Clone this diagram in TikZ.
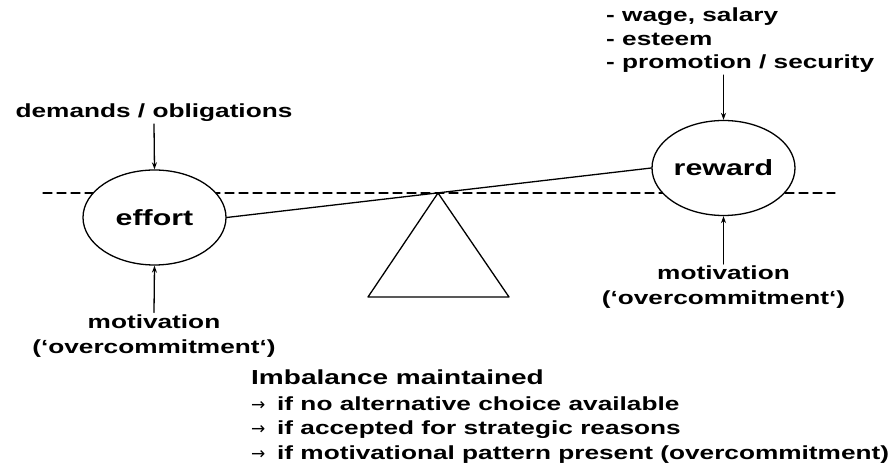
\documentclass[tikz,border=0pt]{standalone}
\usepackage{fontspec}
\usetikzlibrary{shapes.geometric,arrows.meta,positioning}
\newfontfamily\labelfont{Liberation Sans}[FakeStretch=1.38]
\newfontfamily\symfont{DejaVu Sans}
\newcommand{\thenarrow}{\makebox[26pt][l]{\symfont\mdseries\fontsize{17}{17}\selectfont →}}
\tikzset{
  lbl/.style={font=\labelfont\bfseries\fontsize{19}{25}\selectfont, align=center, inner sep=2pt},
  pan/.style={draw, ellipse, fill=white, minimum width=143, minimum height=95, inner sep=0pt,
    line width=1.3pt, font=\labelfont\bfseries\fontsize{22}{26}\selectfont},
  push/.style={-{Stealth[length=7pt,width=5pt]}, line width=1.3pt},
  level/.style={dashed, dash pattern=on 9pt off 5pt, line width=1.2pt},
}
\begin{document}
\begin{tikzpicture}[line cap=round,line join=round,x=1pt,y=1pt]
\useasboundingbox (0,0) rectangle (895,468);
\coordinate (dashL) at (43,275);
\coordinate (dashR) at (835,275);
\draw[level] (dashL) -- (dashR);
\node[pan] (effort) at (154.5,250.5) {effort};
\node[pan] (reward) at (723.5,300) {reward};
\coordinate (pivot) at (438,275);
\coordinate (baseL) at (368,171);
\coordinate (baseR) at (509,171);
\draw[line width=1.3pt] (effort.east) -- (reward.west);
\draw[line width=1.3pt] (pivot) -- (baseL) -- (baseR) -- cycle;
\node[lbl] (demands) at (154,355) {demands / obligations};
\node[lbl] (motivL) at (154,132) {motivation\\(‘overcommitment‘)};
\node[lbl, anchor=north west, align=left, font=\labelfont\bfseries\fontsize{19}{23.5}\selectfont]
  (gains) at (604,462) {- wage, salary\\- esteem\\- promotion / security};
\node[lbl] (motivR) at (723.5,180.5) {motivation\\(‘overcommitment‘)};
\draw[push] (demands.south) -- (effort.north);
\draw[push] (motivL.north) -- (effort.south);
\draw[push] (reward |- gains.south) -- (reward.north);
\draw[push] (motivR.north) -- (reward.south);
\node[lbl, anchor=north west, align=left, font=\labelfont\bfseries\fontsize{19}{24.5}\selectfont]
  (imbalance) at (249,100) {{\fontsize{20.3}{24}\selectfont Imbalance maintained}\\[1pt]
  \thenarrow if no alternative choice available\\
  \thenarrow if accepted for strategic reasons\\
  \thenarrow if motivational pattern present (overcommitment)};
\end{tikzpicture}
\end{document}
